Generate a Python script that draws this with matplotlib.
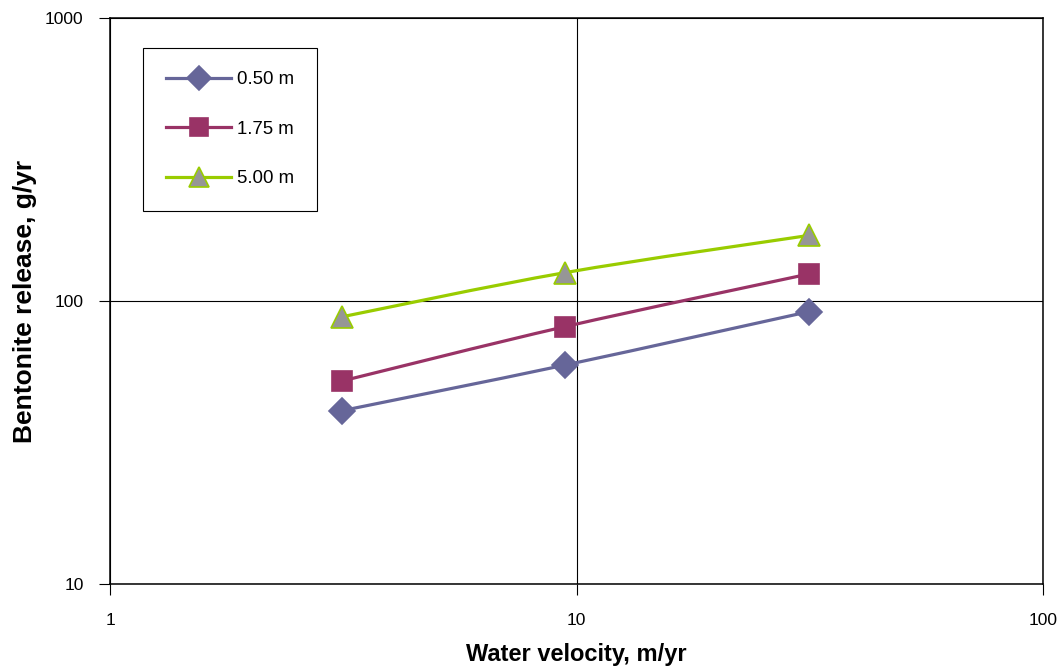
import numpy as np
import matplotlib
matplotlib.use('agg')
import matplotlib.pyplot as plt
from matplotlib.path import Path
from matplotlib.patches import PathPatch
from matplotlib.lines import Line2D
from matplotlib.ticker import FixedLocator, NullLocator, FixedFormatter

plt.rcParams['font.family'] = ['Liberation Sans', 'DejaVu Sans']

velocity = [3.15, 9.46, 31.5]   # m/yr
release_050 = [41.0, 59.4, 91.7]
release_175 = [52.2, 81.2, 124.6]
release_500 = [88.0, 126.0, 170.5]
series_labels = ['0.50 m', '1.75 m', '5.00 m']
x_ticks = [1, 10, 100]
y_ticks = [10, 100, 1000]

styles = [
    dict(color='#666699', marker='D', mfc='#666699', mec='#666699', ms=13.5),
    dict(color='#993366', marker='s', mfc='#993366', mec='#993366', ms=15),
    dict(color='#99CC00', marker='^', mfc='#969696', mec='#99CC00', ms=16.5),
]


def smooth_path(xs, ys):
    # excel-like smoothed line: catmull-rom bezier in log-log space
    lx, ly = np.log10(xs), np.log10(ys)
    p = np.column_stack([lx, ly])
    n = len(p)
    verts = [p[0]]
    codes = [Path.MOVETO]
    for i in range(n - 1):
        p0 = p[i - 1] if i > 0 else p[i]
        p3 = p[i + 2] if i + 2 < n else p[i + 1]
        c1 = p[i] + (p[i + 1] - p0) / 6.0
        c2 = p[i + 1] - (p3 - p[i]) / 6.0
        verts += [c1, c2, p[i + 1]]
        codes += [Path.CURVE4] * 3
    return Path(10 ** np.array(verts), codes)


fig = plt.figure(figsize=(10.61, 6.69), dpi=100)
ax = fig.add_axes([0.1037, 0.1271, 0.8794, 0.846])
ax.set_xscale('log')
ax.set_yscale('log')
ax.set_xlim(1, 100)
ax.set_ylim(10, 1000)

handles = []
for ys, st, lab in zip([release_050, release_175, release_500], styles, series_labels):
    ax.add_patch(PathPatch(smooth_path(velocity, ys), fill=False, edgecolor=st['color'],
                           lw=2.3, zorder=3, capstyle='round'))
    ax.plot(velocity, ys, ls='none', marker=st['marker'], ms=st['ms'], mfc=st['mfc'],
            mec=st['mec'], mew=1.2, zorder=4)
    handles.append(Line2D([], [], color=st['color'], lw=2.3, marker=st['marker'],
                          ms=st['ms'] * 0.88, mfc=st['mfc'], mec=st['mec'], mew=1.2))

ax.xaxis.set_major_locator(FixedLocator(x_ticks))
ax.xaxis.set_major_formatter(FixedFormatter([str(t) for t in x_ticks]))
ax.yaxis.set_major_locator(FixedLocator(y_ticks))
ax.yaxis.set_major_formatter(FixedFormatter([str(t) for t in y_ticks]))
ax.xaxis.set_minor_locator(NullLocator())
ax.yaxis.set_minor_locator(NullLocator())
ax.grid(True, which='major', color='black', lw=0.8)
ax.set_axisbelow(True)
ax.tick_params(axis='both', direction='out', length=8, width=0.8, labelsize=12.5, colors='black')
ax.tick_params(axis='y', pad=11)
ax.tick_params(axis='x', pad=13)
for s in ax.spines.values():
    s.set_linewidth(1.1)
    s.set_color('black')

ax.set_xlabel('Water velocity, m/yr', fontsize=17, fontweight='bold', labelpad=11)
ax.set_ylabel('Bentonite release, g/yr', fontsize=19, fontweight='bold', labelpad=6)

leg = ax.legend(handles, series_labels, loc='upper left', bbox_to_anchor=(0.0354, 0.947),
                fontsize=13.4, frameon=True, fancybox=False, edgecolor='black',
                handlelength=3.5, handletextpad=0.3, labelspacing=1.75,
                borderpad=1.25, borderaxespad=0, framealpha=1)
leg.get_frame().set_linewidth(0.8)

fig.savefig('out.png', dpi=100)
